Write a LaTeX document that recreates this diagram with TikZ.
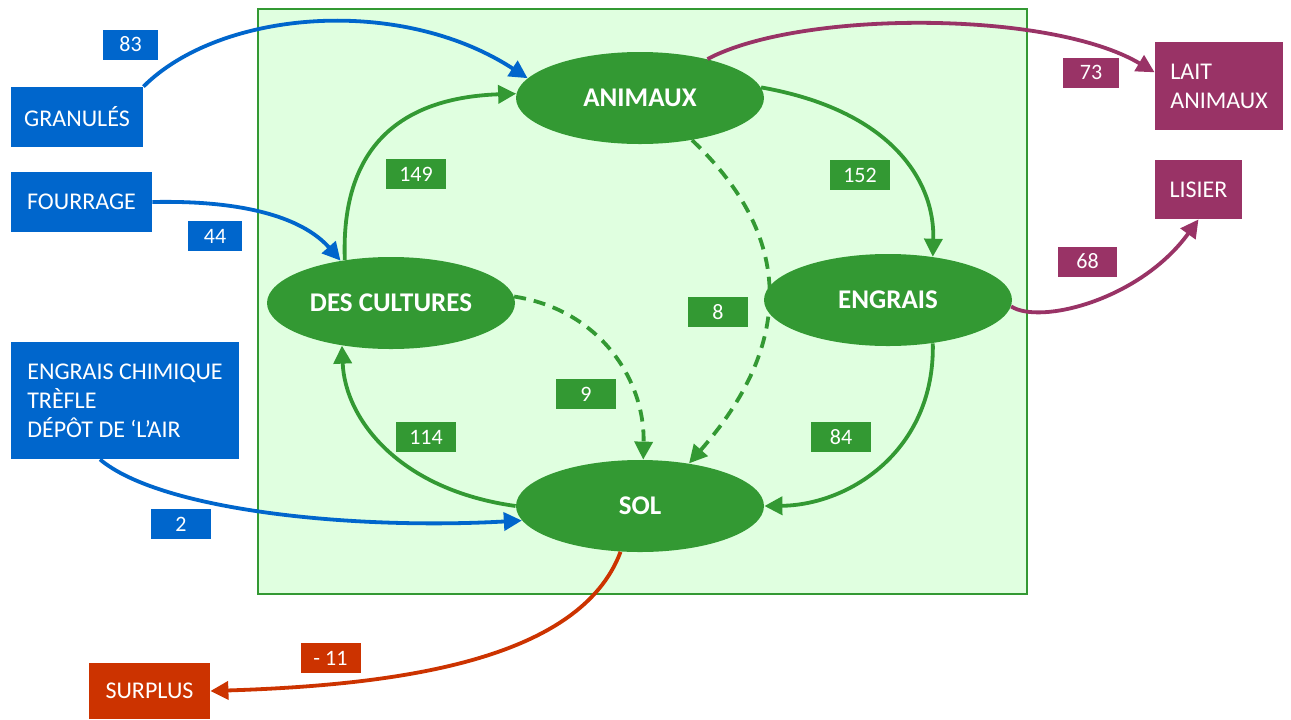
\documentclass[tikz,border=0pt]{standalone}
\usepackage{fontspec}
\setmainfont{Carlito}
\usetikzlibrary{shapes.geometric,arrows.meta}
\definecolor{cblue}{HTML}{0066CC}
\definecolor{cgreen}{HTML}{339933}
\definecolor{clight}{HTML}{E0FFE0}
\definecolor{cpurple}{HTML}{993366}
\definecolor{cred}{HTML}{CC3300}
\begin{document}
\begin{tikzpicture}[x=0.5pt,y=-0.5pt,
 ell/.style={ellipse, fill=cgreen, text=white, font=\fontsize{13.5}{15}\selectfont\bfseries, inner sep=0pt, minimum width=124pt, minimum height=46pt},
 ebox/.style={rectangle, fill=#1, text=white, font=\fontsize{12}{14.4}\selectfont, inner sep=0pt, align=left},
 num/.style={rectangle, fill=#1, text=white, font=\fontsize{11}{13}\selectfont, inner sep=0pt, minimum height=15pt, minimum width=30pt},
 flow/.style={draw=#1, line width=1.9pt, -{Triangle[length=9pt,width=9pt]}},
 dflow/.style={flow=#1, dash pattern=on 6pt off 4pt},
]
\useasboundingbox (0,0) rectangle (1291,719);
\fill[white] (0,0) rectangle (1291,719);
\draw[cgreen, fill=clight, line width=1pt] (258,9) rectangle (1027,594);

% main ellipses
\node[ell] (animaux) at (640,98) {ANIMAUX};
\node[ell] (cultures) at (391,303) {DES CULTURES};
\node[ell] (engrais) at (888,300) {ENGRAIS};
\node[ell] (sol) at (640,506) {SOL};

% outer boxes
\node[ebox=cblue, minimum width=66pt, minimum height=30pt] (granules) at (77,117) {GRANULÉS};
\node[ebox=cblue, minimum width=70.5pt, minimum height=30pt] (fourrage) at (81.5,202) {FOURRAGE};
\node[ebox=cblue, minimum width=114pt, minimum height=58.5pt] (chimique) at (125,400.5) {ENGRAIS CHIMIQUE\\TRÈFLE\\DÉPÔT DE ‘L’AIR};
\node[ebox=cred, minimum width=60.5pt, minimum height=28pt] (surplus) at (149.5,691) {SURPLUS};
\node[ebox=cpurple, minimum width=64pt, minimum height=44pt] (lait) at (1219,86) {LAIT\\ANIMAUX};
\node[ebox=cpurple, minimum width=43.5pt, minimum height=29.5pt] (lisier) at (1198.5,189.5) {LISIER};

% connectors
\draw[flow=cblue] (granules.north east) .. controls (220,10) and (400,-5) .. (animaux.170);
\draw[flow=cblue] (fourrage.east) .. controls (250,200) and (305,220) .. (cultures.140);
\draw[flow=cblue] (chimique.-113) .. controls (160,510) and (350,530) .. (sol.187);
\draw[flow=cred] (sol.-113) .. controls (580,660) and (400,685) .. (surplus.east);
\draw[flow=cpurple] (animaux.30) .. controls (800,10) and (1050,10) .. (lait.168);
\draw[flow=cpurple] (engrais.-3) .. controls (1040,325) and (1140,300) .. (lisier.south);

\draw[flow=cgreen] (cultures.137) .. controls (340,130) and (420,97) .. (animaux.178);
\draw[flow=cgreen] (animaux.5) .. controls (890,110) and (935,180) .. (engrais.44);
\draw[flow=cgreen] (engrais.-44) .. controls (935,450) and (850,505) .. (sol.0);
\draw[flow=cgreen] (sol.180) .. controls (400,490) and (345,420) .. (cultures.-139);
\draw[dflow=cgreen] (cultures.3) .. controls (600,310) and (645,380) .. (sol.86);
\draw[dflow=cgreen] (animaux.-39) .. controls (808,250) and (780,360) .. (sol.41);

% number labels
\node[num=cblue, minimum width=27.5pt] (n83) at (130.5,44.5) {83};
\node[num=cblue, minimum width=27pt] (n44) at (215,236) {44};
\node[num=cblue] (n2) at (181,524) {2};
\node[num=cred] (n11) at (330.5,658) {- 11};
\node[num=cpurple, minimum width=28pt] (n73) at (1091,72.5) {73};
\node[num=cpurple, minimum width=29.5pt] (n68) at (1087.5,261.5) {68};
\node[num=cgreen] (n149) at (416,174) {149};
\node[num=cgreen] (n152) at (860,175) {152};
\node[num=cgreen] (n8) at (718,312) {8};
\node[num=cgreen] (n9) at (586,394) {9};
\node[num=cgreen] (n114) at (426,437) {114};
\node[num=cgreen] (n84) at (841,437) {84};
\end{tikzpicture}
\end{document}
